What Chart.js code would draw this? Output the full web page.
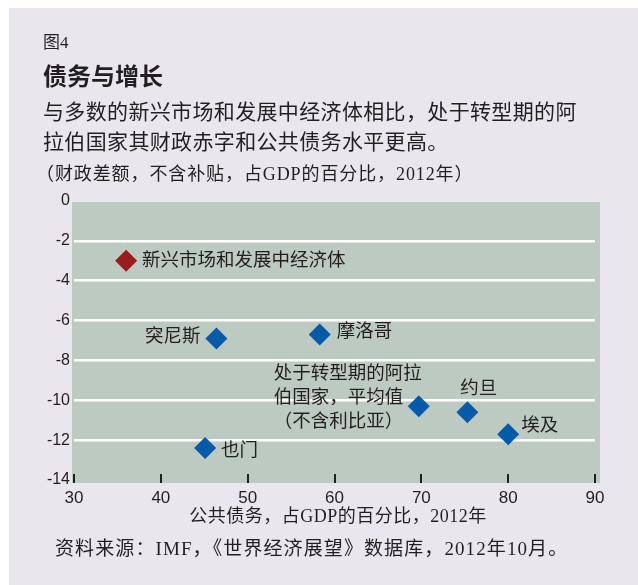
<!DOCTYPE html>
<html>
<head>
<meta charset="utf-8">
<script src="https://cdn.jsdelivr.net/npm/chart.js@4"></script>
<style>
  html, body { margin: 0; padding: 0; background: #ffffff; }
  #chart { display: block; }
</style>
</head>
<body>
<canvas id="chart" width="638" height="585"></canvas>
<script>
// Datos
const grupoNombre = ["新兴市场和发展中经济体"];
const grupoDeuda = [36.0];
const grupoSaldo = [-3.0];

const paises = ["突尼斯", "摩洛哥", "也门", "处于转型期的阿拉\n伯国家，平均值\n（不含利比亚）", "约旦", "埃及"];
const deuda = [46.4, 58.3, 45.1, 69.7, 75.3, 80.0];
const saldo = [-6.9, -6.7, -12.4, -10.3, -10.6, -11.7];

const ticksX = [30, 40, 50, 60, 70, 80, 90];
const ticksY = [0, -2, -4, -6, -8, -10, -12, -14];

const textoFigura = "图4";
const titulo = "债务与增长";
const subtitulo = ["与多数的新兴市场和发展中经济体相比，处于转型期的阿", "拉伯国家其财政赤字和公共债务水平更高。"];
const unidades = "（财政差额，不含补贴，占GDP的百分比，2012年）";
const tituloX = "公共债务，占GDP的百分比，2012年";
const fuente = "资料来源：IMF，《世界经济展望》数据库，2012年10月。";

// Estilos
const colorTexto = "#231f20";
const fuenteSerif = "'Liberation Serif', 'Noto Sans CJK SC', serif";
const fuenteSans = "'Noto Sans CJK SC', sans-serif";

// Posición de las etiquetas respecto a cada punto (dx, dy, alineación)
const estiloGrupo = [{ dx: 16, dy: 0, align: "left" }];
const estiloPaises = [
    { dx: -16, dy: -1, align: "right" },
    { dx: 17, dy: -2, align: "left" },
    { dx: 16, dy: 3, align: "left" },
    { dx: -145, dy: -32, align: "left" },
    { dx: -7, dy: -23, align: "left" },
    { dx: 13, dy: -8, align: "left" },
];

const canvas = document.getElementById("chart").getContext("2d");

// Texto con espaciado entre letras
function texto(ctx, t, x, y, espaciado) {
    ctx.letterSpacing = espaciado + "px";
    ctx.fillText(t, x, y);
    ctx.letterSpacing = "0px";
}

// Plugin para fondos, textos y etiquetas
const decoracion = {
    id: "decoracion",
    beforeDraw(chart) {
        const ctx = chart.ctx;
        const a = chart.chartArea;
        ctx.save();
        ctx.fillStyle = "#e9e6ed";
        ctx.fillRect(9, 8, chart.width - 9, chart.height - 8);
        ctx.fillStyle = "#bccac2";
        ctx.fillRect(a.left - 2, a.top + 1, a.right - a.left + 7, a.bottom - a.top + 2);
        ctx.restore();
    },
    afterDraw(chart) {
        const ctx = chart.ctx;
        const a = chart.chartArea;
        ctx.save();
        ctx.fillStyle = colorTexto;
        ctx.textBaseline = "middle";
        ctx.textAlign = "left";

        ctx.font = "17px " + fuenteSerif;
        ctx.fillText(textoFigura, 43, 44);

        ctx.font = "bold 24px " + fuenteSans;
        ctx.fillText(titulo, 43, 76);

        ctx.font = "21px " + fuenteSerif;
        texto(ctx, subtitulo[0], 43, 113, 0.35);
        texto(ctx, subtitulo[1], 43, 143, 0.35);

        ctx.font = "18px " + fuenteSerif;
        texto(ctx, unidades, 36, 175, 0.9);

        ctx.textAlign = "center";
        texto(ctx, tituloX, 338, 517, 0.5);

        ctx.textAlign = "left";
        ctx.font = "19px " + fuenteSerif;
        texto(ctx, fuente, 55, 550, 1.1);

        // Marcas del eje X hacia dentro
        const sx = chart.scales.x;
        ctx.strokeStyle = "#231f20";
        ctx.lineWidth = 2;
        sx.ticks.forEach((t) => {
            const px = Math.round(sx.getPixelForValue(t.value));
            ctx.beginPath();
            ctx.moveTo(px, a.bottom - 6);
            ctx.lineTo(px, a.bottom + 3);
            ctx.stroke();
        });

        // Etiquetas de los puntos
        ctx.font = "18.5px " + fuenteSerif;
        const etiquetar = (dsIndex, nombres, estilos) => {
            const meta = chart.getDatasetMeta(dsIndex);
            meta.data.forEach((p, i) => {
                const e = estilos[i];
                ctx.textAlign = e.align;
                nombres[i].split("\n").forEach((linea, j) => {
                    ctx.fillText(linea, p.x + e.dx, p.y + e.dy + j * 24);
                });
            });
        };
        etiquetar(0, grupoNombre, estiloGrupo);
        etiquetar(1, paises, estiloPaises);
        ctx.restore();
    },
};

new Chart(canvas, {
    type: "scatter",
    data: {
        datasets: [
            {
                label: grupoNombre[0],
                data: grupoDeuda.map((x, i) => ({ x, y: grupoSaldo[i] })),
                backgroundColor: "#9b1c1c",
                borderWidth: 0,
                pointStyle: "rectRot",
                pointRadius: 11,
            },
            {
                label: "países",
                data: deuda.map((x, i) => ({ x, y: saldo[i] })),
                backgroundColor: "#075aa8",
                borderWidth: 0,
                pointStyle: "rectRot",
                pointRadius: 11,
            },
        ],
    },
    options: {
        responsive: false,
        animation: false,
        events: [],
        layout: {
            padding: { left: 0, right: 43, top: 201, bottom: 75 },
        },
        plugins: {
            legend: { display: false },
            tooltip: { enabled: false },
        },
        scales: {
            x: {
                type: "linear",
                min: 30,
                max: 90,
                afterBuildTicks: (s) => { s.ticks = ticksX.map((v) => ({ value: v })); },
                afterFit: (s) => { s.height = 30; },
                grid: { display: false, drawTicks: false },
                border: { display: false },
                ticks: {
                    padding: 8,
                    color: colorTexto,
                    font: { family: "'Liberation Sans', Arial, sans-serif", size: 17 },
                },
            },
            y: {
                type: "linear",
                min: -14,
                max: 0,
                afterBuildTicks: (s) => { s.ticks = ticksY.map((v) => ({ value: v })); },
                afterFit: (s) => { s.width = 74; },
                grid: {
                    drawTicks: false,
                    lineWidth: 2.5,
                    color: (c) => (c.tick && (c.tick.value === 0 || c.tick.value === -14) ? "rgba(0,0,0,0)" : "#ffffff"),
                },
                border: { display: false },
                ticks: {
                    padding: 4,
                    color: colorTexto,
                    font: { family: "'Liberation Sans', Arial, sans-serif", size: 16 },
                },
            },
        },
    },
    plugins: [decoracion],
});
</script>
</body>
</html>
